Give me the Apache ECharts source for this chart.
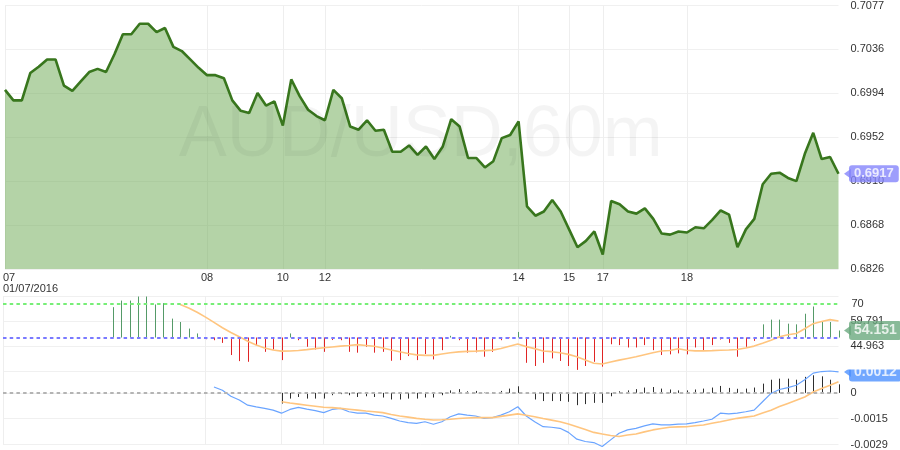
<!DOCTYPE html>
<html><head><meta charset="utf-8">
<script src="https://cdn.jsdelivr.net/npm/echarts@6/dist/echarts.min.js"></script>
<style>html,body{margin:0;padding:0;background:#fff}#c{width:900px;height:450px}</style>
</head><body><div id="c"></div>
<script>
const price = [0.6997,0.6987,0.6987,0.7013,0.7019,0.7026,0.7026,0.7001,0.6996,0.7005,
0.7014,0.7017,0.7014,0.7031,0.7050,0.7050,0.7060,0.7060,0.7052,0.7056,
0.7038,0.7034,0.7026,0.7018,0.7011,0.7011,0.7008,0.6987,0.6977,0.6975,
0.6994,0.6982,0.6986,0.6963,0.7007,0.6991,0.6978,0.6972,0.6968,0.6997,
0.6989,0.6962,0.6959,0.6968,0.6958,0.6959,0.6938,0.6938,0.6944,0.6935,
0.6943,0.6931,0.6943,0.6969,0.6962,0.6932,0.6932,0.6923,0.6929,0.6951,
0.6954,0.6967,0.6886,0.6877,0.6881,0.6892,0.6881,0.6864,0.6847,0.6853,
0.6862,0.6840,0.6891,0.6888,0.6881,0.6879,0.6884,0.6874,0.6860,0.6859,
0.6862,0.6861,0.6866,0.6865,0.6873,0.6882,0.6878,0.6847,0.6864,0.6874,
0.6907,0.6917,0.6918,0.6913,0.6910,0.6936,0.6956,0.6931,0.6933,0.6917];

const rsi = [null,null,null,null,null,null,null,null,null,null,null,null,null,
68,71.9,71.9,74.3,74.3,69.6,70.4,
61.2,59.2,55.3,52.4,49,48.4,46.8,39.6,36,35.6,
45.5,41.5,42.9,36.6,52.4,48.4,44.5,42.9,41.5,48.5,
48.4,41.5,41,44.5,41,41.5,36.2,36.6,39,36.6,
40.2,37,42.5,51,48.4,41,41.2,38.6,41.5,48.4,
49.6,53.3,35,33.1,35,37.6,36.1,33.1,30.8,33.1,
35.6,32.7,46,45.5,44.1,44.1,45.5,42.5,39.6,40,
40.6,40,44.1,42.5,45.5,48.8,46.8,38.6,44.5,48,
57.8,60.6,60.6,58.2,57.8,64.1,68.4,59.2,59.2,54.151];

const rsiMa = [null,null,null,null,null,null,null,null,null,null,
null,null,null,null,null,null,null,null,null,null,null,
69.6,67.5,65,62.1,59,55.8,53,50.5,47.8,
45.5,43.8,42.6,41.9,42,42.3,42.8,43.4,43.9,44.4,
44.9,45.3,45.8,45.3,44.8,43.8,42.6,41.5,40.5,39.7,
39.4,39.4,40.2,41,41.5,41.8,41.9,42.2,42.5,43.5,
44.8,46.1,44.6,43.4,42,41.6,41,40,38.6,36.6,
34.7,34.3,35.5,36.6,37.6,38.6,39.8,41,42,42.3,
43.3,42.4,42.1,42.1,42.2,42.4,42.6,42.9,43.8,44.9,
46.6,48.4,50.5,51.6,52.4,55.2,58.2,59.5,60.6,59.791];

const macd = [null,null,null,null,null,null,null,null,null,null,
null,null,null,null,null,null,null,null,null,null,
null,null,null,null,null,
0.00033,0.00015,-0.00019,-0.00040,-0.00069,
-0.00079,-0.00087,-0.00097,-0.00114,-0.00093,-0.00081,-0.00091,-0.00100,-0.00111,-0.00093,
-0.00087,-0.00106,-0.00114,-0.00114,-0.00125,-0.00130,-0.00143,-0.00158,-0.00167,-0.00171,
-0.00162,-0.00176,-0.00162,-0.00134,-0.00118,-0.00125,-0.00130,-0.00143,-0.00139,-0.00125,
-0.00106,-0.00078,-0.00130,-0.00162,-0.00190,-0.00193,-0.00199,-0.00222,-0.00260,-0.00273,
-0.00279,-0.00301,-0.00264,-0.00227,-0.00208,-0.00199,-0.00185,-0.00174,-0.00180,-0.00180,
-0.00176,-0.00174,-0.00167,-0.00158,-0.00148,-0.00114,-0.00118,-0.00114,-0.00106,-0.00097,
-0.00050,-0.00003,0.00019,0.00030,0.00043,0.00074,0.00111,0.00120,0.00123,0.00118];

const signal = [null,null,null,null,null,null,null,null,null,null,
null,null,null,null,null,null,null,null,null,null,
null,null,null,null,null,null,null,null,null,null,
null,null,null,
-0.00050,-0.00057,-0.00063,-0.00069,-0.00075,-0.00081,-0.00083,
-0.00087,-0.00092,-0.00097,-0.00102,-0.00106,-0.00111,-0.00121,-0.00130,-0.00136,-0.00143,
-0.00148,-0.00152,-0.00151,-0.00148,-0.00144,-0.00141,-0.00139,-0.00139,-0.00139,-0.00132,
-0.00125,-0.00118,-0.00126,-0.00134,-0.00144,-0.00153,-0.00162,-0.00175,-0.00190,-0.00206,
-0.00222,-0.00231,-0.00239,-0.00245,-0.00237,-0.00231,-0.00219,-0.00208,-0.00200,-0.00193,
-0.00191,-0.00190,-0.00185,-0.00180,-0.00171,-0.00162,-0.00152,-0.00143,-0.00136,-0.00130,
-0.00113,-0.00097,-0.00077,-0.00059,-0.00041,-0.00023,0.00005,0.00025,0.00043,0.00062];

const hist = [null,null,null,null,null,null,null,null,null,null,
null,null,null,null,null,null,null,null,null,null,
null,null,null,null,null,null,null,null,null,null,
null,null,null,
-0.00060,-0.00032,-0.00023,-0.00032,-0.00032,-0.00032,-0.00013,
-0.00007,-0.00013,-0.00023,-0.00019,-0.00023,-0.00026,-0.00037,-0.00037,-0.00032,-0.00032,
-0.00026,-0.00026,-0.00013,0.00014,0.00021,0.00009,0.00011,0.00002,0.00005,0.00011,
0.00024,0.00037,-0.00003,-0.00037,-0.00046,-0.00046,-0.00046,-0.00050,-0.00069,-0.00063,
-0.00056,-0.00056,-0.00019,0.00009,0.00014,0.00021,0.00030,0.00033,0.00024,0.00019,
0.00014,0.00014,0.00019,0.00024,0.00030,0.00039,0.00028,0.00023,0.00024,0.00030,
0.00052,0.00074,0.00080,0.00080,0.00074,0.00090,0.00099,0.00093,0.00074,0.00048];

const tickIdx = [0,24,33,38,61,67,71,81];
const tickText = ['07\n01/07/2016','08','10','12','14','15','17','18'];
const rsiUpper = 70;
const rsiMid = 50;
const macdZero = 0;
const watermark = 'AUD/USD,60m';

const cats = price.map((_, i) => String(i));
const last = price.length - 1;
const FONT = '"Liberation Sans", Arial, sans-serif';
const isTick = (i) => tickIdx.indexOf(i) >= 0;
const split = {show: true, interval: (i) => isTick(i), lineStyle: {color: '#eeeeee', width: 1}};

function xAx(gi) {
  return {
    type: 'category', gridIndex: gi, boundaryGap: false,
    data: gi === 0 ? cats.map((c, i) => i === 0 ? {value: c, textStyle: {align: 'left', padding: [0, 0, 0, -2]}} : c) : cats,
    axisLine: {show: false}, axisTick: {show: false},
    axisLabel: gi === 0 ? {
      show: true, interval: (i) => isTick(i),
      formatter: (v, i) => { const p = tickIdx.indexOf(i); return p >= 0 ? tickText[p] : ''; },
      color: '#333', fontSize: 11, fontFamily: FONT, margin: 4, lineHeight: 10.5
    } : {show: false},
    splitLine: split
  };
}

function yAx(gi, min, max, interval, fmt, extra) {
  return {
    type: 'value', gridIndex: gi, position: 'right', min, max, interval,
    axisLine: {show: false}, axisTick: {show: false},
    axisLabel: Object.assign({color: '#333', fontSize: 11, fontFamily: FONT, margin: 12, formatter: fmt}, extra || {}),
    splitLine: {show: true, lineStyle: {color: '#f0f0f0', width: 1}}
  };
}

function stems(xi, yi, arr, base, up, down) {
  return {
    type: 'custom', xAxisIndex: xi, yAxisIndex: yi, silent: true, z: 2,
    data: arr.map((v, i) => [i, v]).filter(d => d[1] != null),
    encode: {x: 0, y: 1},
    renderItem: (params, api) => {
      const i = api.value(0), v = api.value(1);
      const a = api.coord([i, base]), b = api.coord([i, v]);
      const x = Math.round(a[0]) + 0.5;
      return {type: 'line', shape: {x1: x, y1: a[1], x2: x, y2: b[1]},
        style: {stroke: v >= base ? up : down, lineWidth: 1}};
    }
  };
}

function badge(xi, yi, arr, color, text, fs, pad) {
  const v = arr[arr.length - 1];
  return [
    {type: 'scatter', xAxisIndex: xi, yAxisIndex: yi, silent: true, z: 20,
     symbol: 'triangle', symbolRotate: 90, symbolSize: [10, 7], symbolOffset: [9, 0],
     itemStyle: {color: color}, data: [[last, v]]},
    {type: 'scatter', xAxisIndex: xi, yAxisIndex: yi, silent: true, z: 21,
     symbolSize: 1, itemStyle: {color: 'rgba(0,0,0,0)'}, data: [[last, v]],
     label: {show: true, position: 'right', distance: 10, formatter: text(v),
       backgroundColor: color, color: '#fff', fontWeight: 'bold', fontSize: fs, fontFamily: FONT,
       padding: pad, borderRadius: 3, lineHeight: fs}}
  ];
}

const dash = [3.5, 3.2];
const option = {
  animation: false,
  grid: [
    {left: 3, right: 61.5, top: 1, height: 268},
    {left: 3, right: 61.5, top: 296, height: 75},
    {left: 3, right: 61.5, top: 371, height: 74}
  ],
  xAxis: [xAx(0), xAx(1), xAx(2)],
  yAxis: [
    yAx(0, 0.68262, 0.707742, 0.004187, v => v.toFixed(4)),
    yAx(1, 30.135, 74.619, 14.828, v => v.toFixed(3), {showMinLabel: false, showMaxLabel: false}),
    yAx(2, -0.0029, 0.00123, 0.00145, v => Math.abs(v) < 1e-9 ? '0' : (v < 0 ? v - 1e-9 : v).toFixed(4), {showMaxLabel: false})
  ],
  graphic: [{
    type: 'text', x: (3 + 838.5) / 2, y: 136, z: 100, silent: true,
    style: {text: watermark, font: '72px "Liberation Sans", Arial, sans-serif',
      fill: 'rgba(0,0,0,0.045)', align: 'center', verticalAlign: 'middle'}
  }, {
    type: 'rect', x: 841, y: 354, z: 100, silent: true,
    shape: {width: 59, height: 15.5}, style: {fill: '#ffffff'}
  }],
  series: [
    {type: 'line', xAxisIndex: 0, yAxisIndex: 0, data: price, symbol: 'none', z: 3,
     lineStyle: {color: '#38761d', width: 2.6},
     areaStyle: {color: '#6aa84f', opacity: 0.5, origin: 'start'}},
    ...badge(0, 0, price, '#8484fb', v => v.toFixed(4), 13, [2, 5, 2, 5]),
    stems(1, 1, rsi, rsiMid, '#559a68', '#e02424'),
    {type: 'line', xAxisIndex: 1, yAxisIndex: 1, data: rsiMa, symbol: 'none', z: 3,
     lineStyle: {color: '#ffc57f', width: 1.6},
     markLine: {silent: true, symbol: 'none', animation: false, data: [
       {yAxis: rsiUpper, lineStyle: {color: '#77ee77', type: dash, width: 2},
        label: {show: true, position: 'end', formatter: String(rsiUpper), color: '#333', fontSize: 11, fontFamily: FONT, distance: 13}},
       {yAxis: rsiMid, lineStyle: {color: '#7a7aff', type: dash, width: 2}, label: {show: false}}
     ]}},
    ...badge(1, 1, rsi, '#6aa97e', v => v.toFixed(3), 14, [3, 5, 2, 5]),
    stems(2, 2, hist, macdZero, '#2e2e2e', '#2e2e2e'),
    {type: 'line', xAxisIndex: 2, yAxisIndex: 2, data: macd, symbol: 'none', z: 3, clip: false,
     lineStyle: {color: '#6aa4ff', width: 1.2}},
    {type: 'line', xAxisIndex: 2, yAxisIndex: 2, data: signal, symbol: 'none', z: 3,
     lineStyle: {color: '#ffc57f', width: 1.6},
     markLine: {silent: true, symbol: 'none', animation: false, data: [
       {yAxis: macdZero, lineStyle: {color: '#b4b4b4', type: dash, width: 2}, label: {show: false}}
     ]}},
    ...badge(2, 2, macd, '#4d91ff', v => v.toFixed(4), 14, [3, 5, 2, 5])
  ]
};
const chart = echarts.init(document.getElementById('c'), null, {renderer: 'canvas'});
chart.setOption(option);
</script></body></html>
